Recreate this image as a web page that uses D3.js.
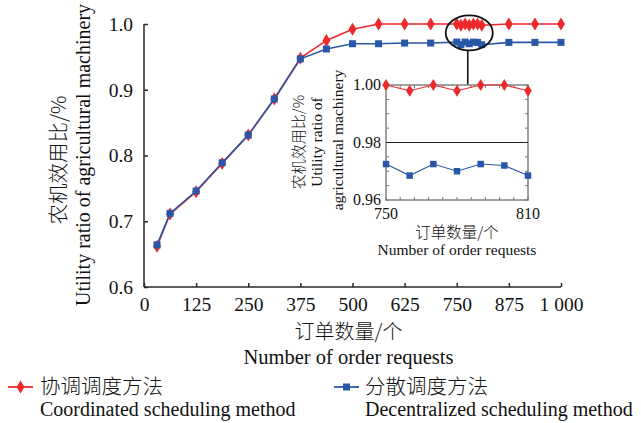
<!DOCTYPE html>
<html>
<head>
<meta charset="utf-8">
<script src="https://cdn.jsdelivr.net/npm/d3@7/dist/d3.min.js"></script>
<style>
  html, body { margin: 0; padding: 0; background: #fff; }
  svg { display: block; }
</style>
</head>
<body>
<svg id="chart" width="641" height="423"></svg>
<script>
// ---- data ----
const orders = [31.25, 62.5, 125, 187.5, 250, 312.5, 375, 437.5, 500, 562.5, 625, 687.5,
                750, 760, 770, 780, 790, 800, 810, 875, 937.5, 1000];
const coordinated = [0.662, 0.711, 0.745, 0.788, 0.831, 0.886, 0.948, 0.975, 0.992, 1.000, 1.000, 1.000,
                     1.000, 0.998, 1.000, 0.998, 1.000, 1.000, 0.998, 1.000, 1.000, 1.000];
const decentralized = [0.664, 0.712, 0.746, 0.789, 0.831, 0.886, 0.947, 0.962, 0.970, 0.970, 0.971, 0.971,
                       0.9725, 0.9685, 0.9725, 0.970, 0.9725, 0.972, 0.9685, 0.972, 0.972, 0.972];
const xTicks = [0, 125, 250, 375, 500, 625, 750, 875, 1000];
const xTickLabels = ["0", "125", "250", "375", "500", "625", "750", "875", "1 000"];
const yTicks = [0.6, 0.7, 0.8, 0.9, 1.0];
const yTickLabels = ["0.6", "0.7", "0.8", "0.9", "1.0"];
const insetXTicks = [750, 810];
const insetXTickLabels = ["750", "810"];
const insetYTicks = [0.96, 0.98, 1.00];
const insetYTickLabels = ["0.96", "0.98", "1.00"];
const seriesNames = [["协调调度方法", "Coordinated scheduling method"],
                     ["分散调度方法", "Decentralized scheduling method"]];

const RED = "#ec2a2e", BLUE = "#2857a7", AX = "#2a2a2a";
const SERIF = "'Liberation Serif', 'Times New Roman', 'DejaVu Serif', serif";
const CJK = "'Noto Sans CJK SC', sans-serif";

const svg = d3.select("#chart");
const x = d3.scaleLinear().domain([0, 1000]).range([144, 561]);
const y = d3.scaleLinear().domain([0.6, 1.0]).range([287, 24]);

const ptsC = orders.map((o, i) => ({x: o, y: coordinated[i]}));
const ptsD = orders.map((o, i) => ({x: o, y: decentralized[i]}));

function diamond(w, h) { return `M0,${-h/2}L${w/2},0L0,${h/2}L${-w/2},0Z`; }
function square(s) { return `M${-s/2},${-s/2}h${s}v${s}h${-s}Z`; }
function serif(sel, size) {
  return sel.style("font-family", SERIF).style("font-size", size + "px").attr("fill", "#111");
}
function cjk(sel, size) {
  return sel.style("font-family", CJK).style("font-weight", "300").style("font-size", size + "px").attr("fill", "#111");
}

// ---- main axes ----
const yAxis = d3.axisLeft(y).tickValues(yTicks).tickFormat((d, i) => yTickLabels[i])
  .tickSizeInner(-4).tickSizeOuter(0).tickPadding(11);
const gy = svg.append("g").attr("transform", `translate(${x(0)},0)`).call(yAxis);
const xAxis = d3.axisBottom(x).tickValues(xTicks).tickFormat((d, i) => xTickLabels[i])
  .tickSizeInner(-4).tickSizeOuter(0).tickPadding(10);
const gx = svg.append("g").attr("transform", `translate(0,${y(0.6)})`).call(xAxis);
[gx, gy].forEach(g => {
  g.attr("font-family", null).attr("font-size", null);
  g.selectAll("path,line").attr("stroke", AX).attr("stroke-width", 1.5);
  serif(g.selectAll("text"), 19.5);
});
gy.selectAll(".domain").attr("d", `M0,${y(0.6)}V${y(1.0)}`);
gx.selectAll(".domain").attr("d", `M${x(0)},0H${x(1000)}`);

// ---- series (main) ----
const line = d3.line().x(d => x(d.x)).y(d => y(d.y));
svg.append("path").datum(ptsC).attr("d", line).attr("fill", "none").attr("stroke", RED).attr("stroke-width", 1.6);
svg.append("g").selectAll("path").data(ptsC).join("path")
  .attr("d", diamond(8, 13)).attr("transform", d => `translate(${x(d.x)},${y(d.y)})`).attr("fill", RED);
svg.append("path").datum(ptsD).attr("d", line).attr("fill", "none").attr("stroke", BLUE).attr("stroke-width", 1.6);
svg.append("g").selectAll("path").data(ptsD).join("path")
  .attr("d", square(7)).attr("transform", d => `translate(${x(d.x)},${y(d.y)})`).attr("fill", BLUE);

// ---- axis titles (main) ----
cjk(svg.append("text"), 20).attr("text-anchor", "middle")
  .attr("x", x(500) - 4).attr("y", 339).text("订单数量/个");
serif(svg.append("text"), 20.5).attr("text-anchor", "middle")
  .attr("x", x(500) - 4).attr("y", 364).text("Number of order requests");
cjk(svg.append("text"), 20.5).attr("text-anchor", "middle")
  .attr("transform", `translate(66,160) rotate(-90)`).text("农机效用比/%");
serif(svg.append("text"), 20).attr("text-anchor", "middle")
  .attr("transform", `translate(90,155) rotate(-90)`).text("Utility ratio of agricultural machinery");

// ---- zoom ellipse + connector ----
const ecx = x(780), ecy = y(0.9865);
svg.append("ellipse").attr("cx", ecx).attr("cy", ecy).attr("rx", 23.5).attr("ry", 17.5)
  .attr("fill", "none").attr("stroke", "#111").attr("stroke-width", 1.8);

// ---- inset ----
const xi = d3.scaleLinear().domain([750, 810]).range([386, 528]);
const yi = d3.scaleLinear().domain([0.96, 1.00]).range([200, 85]);
svg.append("line").attr("x1", ecx - 1.5).attr("x2", ecx - 1.5).attr("y1", ecy + 17.5).attr("y2", yi(1.0))
  .attr("stroke", "#111").attr("stroke-width", 1.6);

const ig = svg.append("g");
ig.append("rect").attr("x", xi(750)).attr("y", yi(1.0)).attr("width", xi(810) - xi(750))
  .attr("height", yi(0.96) - yi(1.0)).attr("fill", "none").attr("stroke", "#8a8a8a").attr("stroke-width", 1.6);
const minorY = d3.range(0, 9).map(i => 0.96 + i * 0.005);
const minorX = d3.range(0, 11).map(i => 750 + i * 6);
ig.selectAll(".ty").data(minorY).join("g").each(function(d) {
  const g = d3.select(this);
  g.append("line").attr("x1", xi(750)).attr("x2", xi(750) + 3).attr("y1", yi(d)).attr("y2", yi(d));
  g.append("line").attr("x1", xi(810)).attr("x2", xi(810) - 3).attr("y1", yi(d)).attr("y2", yi(d));
}).selectAll("line").attr("stroke", "#777").attr("stroke-width", 1);
ig.selectAll(".tx").data(minorX).join("g").each(function(d) {
  const g = d3.select(this);
  g.append("line").attr("x1", xi(d)).attr("x2", xi(d)).attr("y1", yi(0.96)).attr("y2", yi(0.96) - 3);
  g.append("line").attr("x1", xi(d)).attr("x2", xi(d)).attr("y1", yi(1.0)).attr("y2", yi(1.0) + 3);
}).selectAll("line").attr("stroke", "#777").attr("stroke-width", 1);
ig.append("line").attr("x1", xi(750)).attr("x2", xi(810)).attr("y1", yi(0.98)).attr("y2", yi(0.98))
  .attr("stroke", "#222").attr("stroke-width", 1.2);
serif(ig.selectAll(".yl").data(insetYTicks).join("text"), 16)
  .attr("text-anchor", "end").attr("x", xi(750) - 5).attr("y", d => yi(d)).attr("dy", "0.34em")
  .text((d, i) => insetYTickLabels[i]);
serif(ig.selectAll(".xl").data(insetXTicks).join("text"), 16)
  .attr("text-anchor", "middle").attr("x", d => xi(d)).attr("y", 219)
  .text((d, i) => insetXTickLabels[i]);
cjk(ig.append("text"), 15.5).attr("text-anchor", "middle")
  .attr("x", xi(780)).attr("y", 238).text("订单数量/个");
serif(ig.append("text"), 15.5).attr("text-anchor", "middle")
  .attr("x", xi(780)).attr("y", 255).text("Number of order requests");
cjk(ig.append("text"), 15).attr("text-anchor", "middle")
  .attr("transform", `translate(304,142) rotate(-90)`).text("农机效用比/%");
serif(ig.append("text"), 15.5).attr("text-anchor", "middle")
  .attr("transform", `translate(322,142) rotate(-90)`).text("Utility ratio of");
serif(ig.append("text"), 15.5).attr("text-anchor", "middle")
  .attr("transform", `translate(343,140) rotate(-90)`).text("agricultural machinery");
const inC = ptsC.filter(d => d.x >= 750 && d.x <= 810);
const inD = ptsD.filter(d => d.x >= 750 && d.x <= 810);
const iline = d3.line().x(d => xi(d.x)).y(d => yi(d.y));
ig.append("path").datum(inC).attr("d", iline).attr("fill", "none").attr("stroke", RED).attr("stroke-width", 1.1);
ig.append("g").selectAll("path").data(inC).join("path")
  .attr("d", diamond(7.5, 12)).attr("transform", d => `translate(${xi(d.x)},${yi(d.y)})`).attr("fill", RED);
ig.append("path").datum(inD).attr("d", iline).attr("fill", "none").attr("stroke", BLUE).attr("stroke-width", 1.1);
ig.append("g").selectAll("path").data(inD).join("path")
  .attr("d", square(6.5)).attr("transform", d => `translate(${xi(d.x)},${yi(d.y)})`).attr("fill", BLUE);

// ---- legend ----
const legendPos = [{lx: 8, tx: 40}, {lx: 334, tx: 365}];
const colors = [RED, BLUE];
seriesNames.forEach((names, i) => {
  const p = legendPos[i];
  const g = svg.append("g");
  g.append("line").attr("x1", p.lx).attr("x2", p.lx + 25).attr("y1", 387).attr("y2", 387)
    .attr("stroke", colors[i]).attr("stroke-width", 1.8);
  g.append("path").attr("d", i === 0 ? diamond(8, 13) : square(7))
    .attr("transform", `translate(${p.lx + 12.5},387)`).attr("fill", colors[i]);
  cjk(g.append("text"), 20.5).attr("x", p.tx).attr("y", 394).text(names[0]);
  serif(g.append("text"), 20).attr("x", p.tx).attr("y", 415.5).text(names[1]);
});
</script>
</body>
</html>
